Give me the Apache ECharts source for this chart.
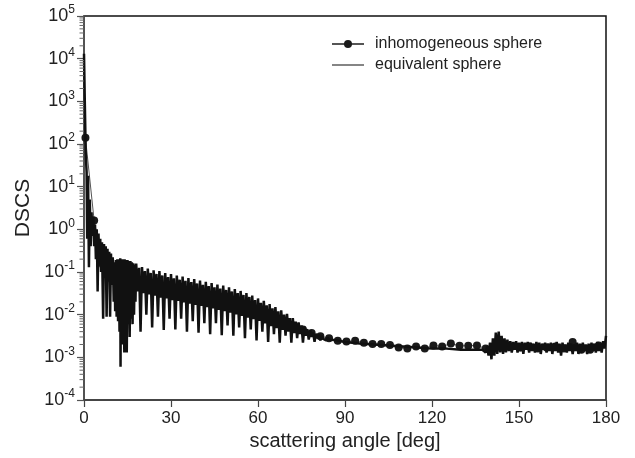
<!DOCTYPE html>
<html>
<head>
<meta charset="utf-8">
<script src="https://cdn.jsdelivr.net/npm/echarts@6/dist/echarts.min.js"></script>
<style>
  html, body { margin: 0; padding: 0; background: #fff; }
  #chart { width: 635px; height: 458px; }
</style>
</head>
<body>
<div id="chart"></div>
<script>
// Differential scattering cross section versus scattering angle

// x axis ticks (degrees)
const angleTicks = [0, 30, 60, 90, 120, 150, 180];
// y axis decades, 10^-4 .. 10^5
const decadeExponents = [-4, -3, -2, -1, 0, 1, 2, 3, 4, 5];
// minor tick multipliers inside each decade
const minorMultipliers = [2, 3, 4, 5, 6, 7, 8, 9];

// inhomogeneous sphere: [angle in deg, DSCS]
const inhomogeneousSphere = [
  [0.5, 140], [3.5, 1.6], [6.5, 0.15], [9.5, 0.07], [12.5, 0.04], [15.5, 0.04],
  [18.5, 0.06], [21.5, 0.055], [24.5, 0.05], [27.5, 0.045], [30.5, 0.04], [33.5, 0.036],
  [36.5, 0.032], [39.5, 0.029], [42.5, 0.026], [45.5, 0.023], [48.5, 0.02], [51.5, 0.018],
  [54.5, 0.016], [57.5, 0.014], [60.5, 0.012], [63.5, 0.01], [66.5, 0.0082], [69.5, 0.0068],
  [72.5, 0.0055], [75.5, 0.0045], [78.5, 0.0037], [81.5, 0.0031], [84.5, 0.0028], [87.5, 0.00245],
  [90.5, 0.00234], [93.5, 0.00245], [96.5, 0.0022], [99.5, 0.00204], [102.5, 0.00204], [105.5, 0.00195],
  [108.5, 0.0017], [111.5, 0.0016], [114.5, 0.0018], [117.5, 0.00162], [120.5, 0.0019], [123.5, 0.0018],
  [126.5, 0.0021], [129.5, 0.00186], [132.5, 0.00186], [135.5, 0.0019], [138.5, 0.0016], [141.5, 0.0018],
  [144.5, 0.0017], [147.5, 0.0018], [150.5, 0.0017], [153.5, 0.0018], [156.5, 0.0016], [159.5, 0.0017],
  [162.5, 0.0018], [165.5, 0.0016], [168.5, 0.0023], [171.5, 0.0015], [174.5, 0.0015], [177.5, 0.0019]
];

// equivalent sphere: [angle in deg, DSCS]
const equivalentSphere = [
  // forward peak
  [0, 13000], [0.3, 800], [0.6, 60], [0.9, 22], [1.1, 0.6], [1.4, 18], [1.7, 0.13], [2.0, 5],
  [2.3, 0.4], [2.6, 2.5], [2.9, 0.7], [3.2, 2], [3.5, 0.4], [3.8, 1.3], [4.1, 0.2], [4.4, 1.0],
  [4.7, 0.035], [5.0, 0.8], [5.3, 0.15], [5.6, 0.6], [5.9, 0.1], [6.2, 0.5], [6.6, 0.008], [6.9, 0.45],
  [7.2, 0.08], [7.5, 0.4], [7.8, 0.009], [8.1, 0.35], [8.4, 0.06], [8.7, 0.3], [9.0, 0.009], [9.3, 0.27],
  [9.6, 0.05], [9.9, 0.22],
  // dense minimum region
  [10.0, 0.16], [10.25, 0.02], [10.5, 0.17], [10.75, 0.012], [11.0, 0.19], [11.25, 0.009], [11.5, 0.2],
  [11.75, 0.007], [12.0, 0.2], [12.25, 0.004], [12.5, 0.21], [12.6, 0.0006], [12.75, 0.2], [13.0, 0.003],
  [13.25, 0.2], [13.5, 0.002], [13.75, 0.2], [13.9, 0.0013], [14.0, 0.2], [14.25, 0.004], [14.5, 0.19],
  [14.75, 0.0013], [15.0, 0.19], [15.25, 0.006], [15.5, 0.18], [15.75, 0.003], [16.0, 0.18], [16.25, 0.008],
  [16.5, 0.17], [16.75, 0.006], [17.0, 0.16], [17.25, 0.01], [17.5, 0.15], [17.75, 0.02],
  // oscillating decay
  [18, 0.158], [18.5, 0.035], [19, 0.126], [19.5, 0.004],
  [20, 0.13], [20.5, 0.032], [21, 0.105], [21.5, 0.01],
  [22, 0.12], [22.5, 0.03], [23, 0.095], [23.5, 0.005],
  [24, 0.11], [24.5, 0.028], [25, 0.09], [25.5, 0.009],
  [26, 0.105], [26.5, 0.025], [27, 0.083], [27.5, 0.0044],
  [28, 0.095], [28.5, 0.024], [29, 0.076], [29.5, 0.008],
  [30, 0.089], [30.5, 0.022], [31, 0.071], [31.5, 0.0045],
  [32, 0.083], [32.5, 0.021], [33, 0.066], [33.5, 0.008],
  [34, 0.078], [34.5, 0.0195], [35, 0.062], [35.5, 0.004],
  [36, 0.072], [36.5, 0.018], [37, 0.058], [37.5, 0.007],
  [38, 0.068], [38.5, 0.017], [39, 0.054], [39.5, 0.0038],
  [40, 0.063], [40.5, 0.016], [41, 0.05], [41.5, 0.0063],
  [42, 0.059], [42.5, 0.015], [43, 0.047], [43.5, 0.0035],
  [44, 0.055], [44.5, 0.014], [45, 0.044], [45.5, 0.0063],
  [46, 0.051], [46.5, 0.013], [47, 0.041], [47.5, 0.0033],
  [48, 0.048], [48.5, 0.012], [49, 0.038], [49.5, 0.0056],
  [50, 0.044], [50.5, 0.0112], [51, 0.035], [51.5, 0.0032],
  [52, 0.04], [52.5, 0.0102], [53, 0.032], [53.5, 0.005],
  [54, 0.036], [54.5, 0.0093], [55, 0.029], [55.5, 0.0028],
  [56, 0.032], [56.5, 0.0085], [57, 0.026], [57.5, 0.0045],
  [58, 0.028], [58.5, 0.0078], [59, 0.022], [59.5, 0.0025],
  [60, 0.024], [60.5, 0.0071], [61, 0.019], [61.5, 0.004],
  [62, 0.021], [62.5, 0.0062], [63, 0.0166], [63.5, 0.0023],
  [64, 0.0178], [64.5, 0.0054], [65, 0.014], [65.5, 0.0035],
  [66, 0.015], [66.5, 0.0048], [67, 0.012], [67.5, 0.0022],
  [68, 0.0126], [68.5, 0.0044], [69, 0.01], [69.5, 0.0032],
  [70, 0.0105], [70.5, 0.004], [71, 0.0083], [71.5, 0.0022],
  [72, 0.0083], [72.5, 0.0037], [73, 0.0069], [73.5, 0.0028],
  [74, 0.0066], [74.5, 0.0035], [75, 0.0056], [75.5, 0.0022],
  [76, 0.0052], [76.5, 0.0032], [77, 0.0046], [77.5, 0.0026],
  [78, 0.0043], [78.5, 0.003], [79, 0.0038], [79.5, 0.0023],
  [80, 0.0036], [80.5, 0.0028], [81, 0.0034], [81.5, 0.0025],
  [82, 0.0032], [82.5, 0.0027], [83, 0.003], [83.5, 0.0025],
  [84, 0.0029], [84.5, 0.0026], [85, 0.00275],
  // smooth plateau
  [87, 0.0025], [90, 0.0023], [95, 0.0021], [100, 0.002], [105, 0.0019], [110, 0.0018],
  [115, 0.0017], [120, 0.0016], [125, 0.0016], [130, 0.0015], [135, 0.0015], [137.5, 0.0015],
  // backward burst
  [138, 0.0016], [138.5, 0.0013], [139, 0.0018], [139.5, 0.0011], [140, 0.0022], [140.5, 0.0009],
  [141, 0.0028], [141.5, 0.0011], [142, 0.0038], [142.5, 0.0012], [143, 0.004], [143.5, 0.0013],
  [144, 0.0032], [144.5, 0.0012], [145, 0.0028], [145.5, 0.0013], [146, 0.0026],
  // backward band
  [146.5, 0.0014], [147, 0.0024], [147.5, 0.0013], [148, 0.0023], [148.5, 0.0015], [149, 0.0024],
  [149.5, 0.0013], [150, 0.0022], [150.5, 0.0014], [151, 0.0023], [151.5, 0.0012], [152, 0.0022],
  [152.5, 0.0015], [153, 0.0023], [153.5, 0.0013], [154, 0.0022], [154.5, 0.0014], [155, 0.0021],
  [155.5, 0.0013], [156, 0.0023], [156.5, 0.0014], [157, 0.0022], [157.5, 0.0012], [158, 0.0021],
  [158.5, 0.0015], [159, 0.0022], [159.5, 0.0013], [160, 0.0021], [160.5, 0.0014], [161, 0.0022],
  [161.5, 0.0012], [162, 0.0021], [162.5, 0.0014], [163, 0.0023], [163.5, 0.0013], [164, 0.0021],
  [164.5, 0.0011], [165, 0.0022], [165.5, 0.0014], [166, 0.002], [166.5, 0.0013], [167, 0.0022],
  [167.5, 0.0014], [168, 0.0021], [168.5, 0.0012], [169, 0.002], [169.5, 0.0014], [170, 0.0022],
  [170.5, 0.0012], [171, 0.0021], [171.5, 0.0013], [172, 0.0022], [172.5, 0.0014], [173, 0.002],
  [173.5, 0.0012], [174, 0.0021], [174.5, 0.0013], [175, 0.0022], [175.5, 0.0014], [176, 0.0021],
  [176.5, 0.0013], [177, 0.0023], [177.5, 0.0014], [178, 0.0021], [178.5, 0.0013], [179, 0.0024],
  [179.5, 0.0016], [180, 0.0032]
];

const FONT = 'Liberation Sans, Arial, sans-serif';
const INK = '#111';
const chart = echarts.init(document.getElementById('chart'), null, { renderer: 'canvas' });

chart.setOption({
  animation: false,
  backgroundColor: '#fff',
  grid: {
    left: 84, right: 29, top: 16, bottom: 58,
    show: true, borderColor: '#111', borderWidth: 1.5, backgroundColor: 'transparent'
  },
  legend: {
    orient: 'vertical',
    left: 326, top: 31,
    itemWidth: 32, itemHeight: 10, itemGap: 5,
    textStyle: { fontFamily: FONT, fontSize: 16, color: '#222', padding: [0, 0, 0, 6] },
    data: [
      { name: 'inhomogeneous sphere' },
      // plain line swatch (no marker)
      { name: 'equivalent sphere', icon: 'path://M0,0L0,0M0,4.4L32,4.4L32,5.6L0,5.6ZM32,10L32,10', itemStyle: { color: '#333' } }
    ]
  },
  xAxis: {
    type: 'value',
    min: angleTicks[0], max: angleTicks[angleTicks.length - 1], interval: 30,
    name: 'scattering angle [deg]',
    nameLocation: 'middle', nameGap: 26,
    nameTextStyle: { fontFamily: FONT, fontSize: 20, color: '#222' },
    axisLine: { show: true, lineStyle: { color: '#444', width: 1.5 } },
    axisTick: { show: true, inside: false, length: 7, lineStyle: { color: '#444', width: 1.2 } },
    axisLabel: { fontFamily: FONT, fontSize: 17, color: '#222', margin: 10 },
    splitLine: { show: false }
  },
  yAxis: {
    type: 'log', logBase: 10,
    min: Math.pow(10, decadeExponents[0]),
    max: Math.pow(10, decadeExponents[decadeExponents.length - 1]),
    splitNumber: 9,
    name: 'DSCS',
    nameLocation: 'middle', nameGap: 48,
    nameTextStyle: { fontFamily: FONT, fontSize: 21, color: '#222' },
    axisLine: { show: true, lineStyle: { color: '#555', width: 1.5 } },
    axisTick: { show: true, inside: false, length: 7, lineStyle: { color: '#555', width: 1.2 } },
    axisLabel: {
      margin: 9,
      formatter: function (v) {
        const e = Math.round(Math.log10(v));
        return '{b|10}{s|' + e + '}';
      },
      rich: {
        b: { fontFamily: FONT, fontSize: 18, color: '#222' },
        s: { fontFamily: FONT, fontSize: 12, color: '#222', padding: [0, 0, 12, 0] }
      }
    },
    splitLine: { show: false }
  },
  series: [
    {
      name: 'inhomogeneous sphere',
      type: 'line',
      data: inhomogeneousSphere,
      symbol: 'circle', symbolSize: 8, showSymbol: true,
      lineStyle: { color: '#555', width: 1 },
      itemStyle: { color: '#1a1a1a' },
      z: 2
    },
    {
      name: 'equivalent sphere',
      type: 'line',
      data: equivalentSphere,
      symbol: 'none',
      lineStyle: { color: INK, width: 2.5 },
      itemStyle: { color: INK },
      z: 3
    }
  ]
});

// minor ticks of the logarithmic axis (2..9 times each decade), positioned with the axis scale
const tickElements = [];
const axisX = chart.convertToPixel({ xAxisIndex: 0 }, angleTicks[0]);
decadeExponents.slice(0, -1).forEach(function (e) {
  minorMultipliers.forEach(function (m) {
    const y = chart.convertToPixel({ yAxisIndex: 0 }, m * Math.pow(10, e));
    tickElements.push({
      type: 'line', silent: true, z: 10,
      shape: { x1: axisX - 4.5, y1: y, x2: axisX, y2: y },
      style: { stroke: '#666', lineWidth: 1 }
    });
  });
});
chart.setOption({ graphic: { elements: tickElements } });
</script>
</body>
</html>
